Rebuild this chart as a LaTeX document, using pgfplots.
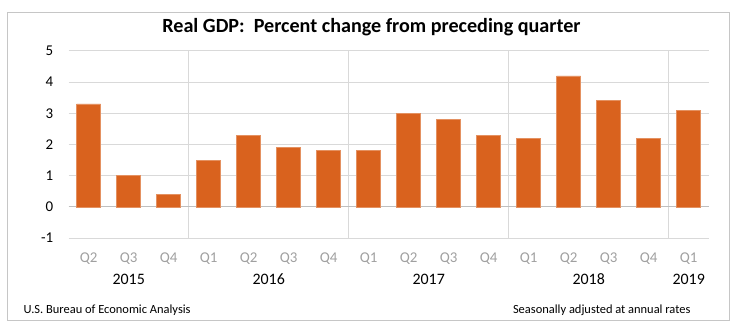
\documentclass[border=0pt]{standalone}
\usepackage{fontspec}
\setmainfont{Carlito}
\usepackage{pgfplots}
\pgfplotsset{compat=1.18}
\definecolor{barorange}{RGB}{217,98,30}
\definecolor{gridgray}{RGB}{217,217,217}
\definecolor{axisgray}{RGB}{191,191,191}
\definecolor{qgray}{RGB}{160,160,160}
\begin{document}
\begin{tikzpicture}[x=1bp,y=1bp]
\path[use as bounding box] (0,0) rectangle (736,324);
\draw[gray!45, line width=0.8bp] (7,4) rectangle (729,312);
\node[font=\fontsize{20.2}{22}\selectfont\bfseries] at (371.5,297) {Real GDP:\ \ Percent change from preceding quarter};
\node[font=\fontsize{12.5}{14}\selectfont, anchor=west] at (20,14) {U.S. Bureau of Economic Analysis};
\node[font=\fontsize{12.5}{14}\selectfont, anchor=east] at (694,14) {Seasonally adjusted at annual rates};
\begin{axis}[
  at={(68.7bp,86bp)}, anchor=south west,
  scale only axis, width=640bp, height=187.2bp,
  xmin=-0.5, xmax=15.5, ymin=-1, ymax=5,
  ytick={-1,0,...,5},
  xtick={0,...,15},
  xticklabels={Q2,Q3,Q4,Q1,Q2,Q3,Q4,Q1,Q2,Q3,Q4,Q1,Q2,Q3,Q4,Q1},
  extra x ticks={2.5,6.5,10.5,14.5},
  extra x tick labels={},
  extra x tick style={grid=major, major grid style={gridgray, line width=0.8bp}},
  ymajorgrids, major grid style={gridgray, line width=0.8bp},
  axis line style={draw=none},
  major tick length=0pt,
  tick label style={font=\fontsize{15}{16}\selectfont},
  yticklabel style={anchor=east, xshift=-12bp},
  xticklabel style={text=qgray, anchor=center, yshift=-21bp},
  ybar, bar width=24bp,
  clip=false,
  /pgf/number format/assume math mode=true,
]
\draw[axisgray, line width=1bp] (axis cs:-0.5,0) -- (axis cs:15.5,0);
\addplot[fill=barorange, draw=barorange!70!white, line width=0.5bp] coordinates {
(0,3.3) (1,1.0) (2,0.4) (3,1.5) (4,2.3) (5,1.9) (6,1.8) (7,1.8)
(8,3.0) (9,2.8) (10,2.3) (11,2.2) (12,4.2) (13,3.4) (14,2.2) (15,3.1)};
\path[font=\fontsize{16}{18}\selectfont]
  (axis cs:1,-1) node[yshift=-41bp] {2015}
  (axis cs:4.5,-1) node[yshift=-41bp] {2016}
  (axis cs:8.5,-1) node[yshift=-41bp] {2017}
  (axis cs:12.5,-1) node[yshift=-41bp] {2018}
  (axis cs:15,-1) node[yshift=-41bp] {2019};
\end{axis}
\end{tikzpicture}
\end{document}
